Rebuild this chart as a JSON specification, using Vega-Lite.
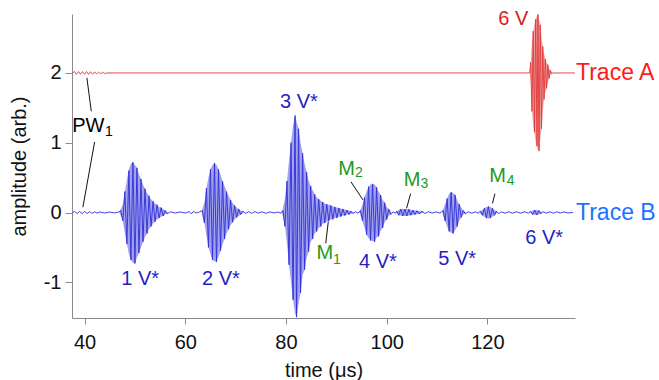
{
  "$schema": "https://vega.github.io/schema/vega-lite/v6.json",
  "width": 503,
  "height": 304,
  "autosize": {"type": "none"},
  "padding": {"left": 72, "top": 14, "right": 84, "bottom": 62},
  "background": "white",
  "config": {
    "view": {"stroke": null},
    "font": "Liberation Sans",
    "axis": {
      "grid": false,
      "domainColor": "#8a8a8a",
      "tickColor": "#8a8a8a",
      "labelColor": "#111111",
      "titleColor": "#111111",
      "labelFontSize": 20,
      "titleFontSize": 20,
      "titleFontWeight": "normal",
      "labelFont": "Liberation Sans",
      "titleFont": "Liberation Sans"
    }
  },
  "datasets": {
    "env": [
      {"k":"B","t":46.9,"hi":0,"lo":0},{"k":"B","t":47.6,"hi":0.12,"lo":-0.12},{"k":"B","t":48.0,"hi":0.3,"lo":-0.3},{"k":"B","t":48.4,"hi":0.47,"lo":-0.45},{"k":"B","t":48.8,"hi":0.62,"lo":-0.6},{"k":"B","t":49.2,"hi":0.7,"lo":-0.68},{"k":"B","t":49.6,"hi":0.72,"lo":-0.72},{"k":"B","t":50.0,"hi":0.68,"lo":-0.73},{"k":"B","t":50.4,"hi":0.64,"lo":-0.64},{"k":"B","t":50.8,"hi":0.55,"lo":-0.58},{"k":"B","t":51.2,"hi":0.48,"lo":-0.5},{"k":"B","t":51.6,"hi":0.4,"lo":-0.42},{"k":"B","t":52.0,"hi":0.34,"lo":-0.35},{"k":"B","t":52.4,"hi":0.28,"lo":-0.3},{"k":"B","t":52.8,"hi":0.24,"lo":-0.24},{"k":"B","t":53.2,"hi":0.19,"lo":-0.2},{"k":"B","t":53.6,"hi":0.16,"lo":-0.16},{"k":"B","t":54.0,"hi":0.13,"lo":-0.13},{"k":"B","t":54.4,"hi":0.11,"lo":-0.1},{"k":"B","t":54.8,"hi":0.08,"lo":-0.08},{"k":"B","t":55.2,"hi":0.07,"lo":-0.06},{"k":"B","t":55.6,"hi":0.05,"lo":-0.05},{"k":"B","t":56.0,"hi":0.03,"lo":-0.03},{"k":"B","t":56.6,"hi":0,"lo":0},
      {"k":"B","t":63.2,"hi":0,"lo":0},{"k":"B","t":63.8,"hi":0.15,"lo":-0.15},{"k":"B","t":64.2,"hi":0.35,"lo":-0.33},{"k":"B","t":64.6,"hi":0.5,"lo":-0.5},{"k":"B","t":65.0,"hi":0.62,"lo":-0.6},{"k":"B","t":65.4,"hi":0.68,"lo":-0.68},{"k":"B","t":65.8,"hi":0.71,"lo":-0.7},{"k":"B","t":66.2,"hi":0.68,"lo":-0.71},{"k":"B","t":66.6,"hi":0.62,"lo":-0.63},{"k":"B","t":67.0,"hi":0.54,"lo":-0.55},{"k":"B","t":67.4,"hi":0.45,"lo":-0.46},{"k":"B","t":67.8,"hi":0.38,"lo":-0.38},{"k":"B","t":68.2,"hi":0.3,"lo":-0.3},{"k":"B","t":68.6,"hi":0.24,"lo":-0.24},{"k":"B","t":69.0,"hi":0.18,"lo":-0.18},{"k":"B","t":69.4,"hi":0.14,"lo":-0.14},{"k":"B","t":69.8,"hi":0.1,"lo":-0.1},{"k":"B","t":70.2,"hi":0.07,"lo":-0.07},{"k":"B","t":70.6,"hi":0.05,"lo":-0.05},{"k":"B","t":71.0,"hi":0.03,"lo":-0.03},{"k":"B","t":71.6,"hi":0,"lo":0},
      {"k":"B","t":79.2,"hi":0,"lo":0},{"k":"B","t":79.8,"hi":0.2,"lo":-0.2},{"k":"B","t":80.2,"hi":0.45,"lo":-0.45},{"k":"B","t":80.6,"hi":0.75,"lo":-0.75},{"k":"B","t":81.0,"hi":1.0,"lo":-1.0},{"k":"B","t":81.4,"hi":1.25,"lo":-1.25},{"k":"B","t":81.8,"hi":1.39,"lo":-1.45},{"k":"B","t":82.1,"hi":1.3,"lo":-1.5},{"k":"B","t":82.5,"hi":1.2,"lo":-1.3},{"k":"B","t":82.9,"hi":1.0,"lo":-1.15},{"k":"B","t":83.3,"hi":0.85,"lo":-0.9},{"k":"B","t":83.7,"hi":0.7,"lo":-0.82},{"k":"B","t":84.1,"hi":0.58,"lo":-0.65},{"k":"B","t":84.5,"hi":0.46,"lo":-0.56},{"k":"B","t":84.9,"hi":0.38,"lo":-0.42},{"k":"B","t":85.3,"hi":0.32,"lo":-0.38},{"k":"B","t":85.7,"hi":0.26,"lo":-0.3},{"k":"B","t":86.1,"hi":0.22,"lo":-0.27},{"k":"B","t":86.5,"hi":0.19,"lo":-0.22},{"k":"B","t":86.9,"hi":0.17,"lo":-0.2},{"k":"B","t":87.3,"hi":0.15,"lo":-0.16},{"k":"B","t":87.7,"hi":0.13,"lo":-0.15},{"k":"B","t":88.1,"hi":0.12,"lo":-0.13},{"k":"B","t":88.5,"hi":0.11,"lo":-0.12},{"k":"B","t":88.9,"hi":0.1,"lo":-0.1},{"k":"B","t":89.7,"hi":0.08,"lo":-0.08},{"k":"B","t":90.5,"hi":0.065,"lo":-0.06},{"k":"B","t":91.3,"hi":0.05,"lo":-0.045},{"k":"B","t":92.1,"hi":0.035,"lo":-0.03},{"k":"B","t":92.9,"hi":0.02,"lo":-0.02},{"k":"B","t":93.5,"hi":0,"lo":0},
      {"k":"B","t":94.6,"hi":0,"lo":0},{"k":"B","t":95.2,"hi":0.12,"lo":-0.12},{"k":"B","t":95.6,"hi":0.22,"lo":-0.22},{"k":"B","t":96.0,"hi":0.3,"lo":-0.32},{"k":"B","t":96.4,"hi":0.37,"lo":-0.37},{"k":"B","t":96.8,"hi":0.4,"lo":-0.4},{"k":"B","t":97.2,"hi":0.41,"lo":-0.41},{"k":"B","t":97.6,"hi":0.4,"lo":-0.42},{"k":"B","t":98.0,"hi":0.36,"lo":-0.36},{"k":"B","t":98.4,"hi":0.3,"lo":-0.34},{"k":"B","t":98.8,"hi":0.25,"lo":-0.26},{"k":"B","t":99.2,"hi":0.18,"lo":-0.22},{"k":"B","t":99.6,"hi":0.14,"lo":-0.14},{"k":"B","t":100.0,"hi":0.08,"lo":-0.1},{"k":"B","t":100.4,"hi":0.05,"lo":-0.05},{"k":"B","t":101.0,"hi":0,"lo":0},
      {"k":"B","t":101.8,"hi":0,"lo":0},{"k":"B","t":102.4,"hi":0.04,"lo":-0.04},{"k":"B","t":103.2,"hi":0.05,"lo":-0.05},{"k":"B","t":104.0,"hi":0.05,"lo":-0.05},{"k":"B","t":104.8,"hi":0.04,"lo":-0.04},{"k":"B","t":105.6,"hi":0.03,"lo":-0.03},{"k":"B","t":106.5,"hi":0.02,"lo":-0.02},{"k":"B","t":107.5,"hi":0,"lo":0},
      {"k":"B","t":111.0,"hi":0,"lo":0},{"k":"B","t":111.6,"hi":0.12,"lo":-0.12},{"k":"B","t":112.0,"hi":0.2,"lo":-0.2},{"k":"B","t":112.4,"hi":0.27,"lo":-0.27},{"k":"B","t":112.8,"hi":0.29,"lo":-0.29},{"k":"B","t":113.2,"hi":0.28,"lo":-0.3},{"k":"B","t":113.6,"hi":0.25,"lo":-0.25},{"k":"B","t":114.0,"hi":0.18,"lo":-0.2},{"k":"B","t":114.4,"hi":0.12,"lo":-0.12},{"k":"B","t":114.8,"hi":0.07,"lo":-0.07},{"k":"B","t":115.2,"hi":0.03,"lo":-0.03},{"k":"B","t":115.8,"hi":0,"lo":0},
      {"k":"B","t":118.4,"hi":0,"lo":0},{"k":"B","t":119.0,"hi":0.04,"lo":-0.04},{"k":"B","t":119.4,"hi":0.06,"lo":-0.06},{"k":"B","t":119.8,"hi":0.08,"lo":-0.08},{"k":"B","t":120.2,"hi":0.085,"lo":-0.085},{"k":"B","t":120.6,"hi":0.08,"lo":-0.08},{"k":"B","t":121.0,"hi":0.06,"lo":-0.06},{"k":"B","t":121.4,"hi":0.04,"lo":-0.04},{"k":"B","t":122.0,"hi":0,"lo":0},
      {"k":"B","t":128.4,"hi":0,"lo":0},{"k":"B","t":129.0,"hi":0.03,"lo":-0.03},{"k":"B","t":129.6,"hi":0.035,"lo":-0.035},{"k":"B","t":130.2,"hi":0.03,"lo":-0.03},{"k":"B","t":131.0,"hi":0,"lo":0},
      {"k":"A","t":128.4,"hi":2.0,"lo":2.0},{"k":"A","t":128.6,"hi":2.15,"lo":1.9},{"k":"A","t":128.85,"hi":2.45,"lo":1.45},{"k":"A","t":129.1,"hi":2.6,"lo":1.25},{"k":"A","t":129.35,"hi":2.7,"lo":1.15},{"k":"A","t":129.6,"hi":2.77,"lo":1.0},{"k":"A","t":129.85,"hi":2.82,"lo":0.95},{"k":"A","t":130.05,"hi":2.84,"lo":0.9},{"k":"A","t":130.25,"hi":2.78,"lo":0.88},{"k":"A","t":130.5,"hi":2.69,"lo":1.05},{"k":"A","t":130.75,"hi":2.5,"lo":1.2},{"k":"A","t":131.0,"hi":2.38,"lo":1.45},{"k":"A","t":131.25,"hi":2.28,"lo":1.62},{"k":"A","t":131.5,"hi":2.2,"lo":1.72},{"k":"A","t":131.75,"hi":2.15,"lo":1.78},{"k":"A","t":132.0,"hi":2.12,"lo":1.85},{"k":"A","t":132.25,"hi":2.07,"lo":1.92},{"k":"A","t":132.5,"hi":2.04,"lo":1.97},{"k":"A","t":132.75,"hi":2.01,"lo":1.99},{"k":"A","t":133.0,"hi":2.0,"lo":2.0}
    ],
    "w": [
      {"k":"B","t":37.6,"v":0},{"k":"B","t":38.0,"v":0.015},{"k":"B","t":38.5,"v":-0.015},{"k":"B","t":39.0,"v":0.015},{"k":"B","t":39.5,"v":-0.015},{"k":"B","t":40.0,"v":0.015},{"k":"B","t":40.5,"v":-0.015},{"k":"B","t":41.0,"v":0.012},{"k":"B","t":41.5,"v":-0.012},{"k":"B","t":42.0,"v":0.01},{"k":"B","t":42.5,"v":-0.01},{"k":"B","t":43.0,"v":0.008},{"k":"B","t":44.0,"v":-0.008},{"k":"B","t":45.0,"v":0.006},{"k":"B","t":46.0,"v":-0.006},{"k":"B","t":46.8,"v":0.008},
      {"k":"B","t":47.2,"v":0.03},{"k":"B","t":47.6,"v":-0.12},{"k":"B","t":48.0,"v":0.30},{"k":"B","t":48.4,"v":-0.45},{"k":"B","t":48.8,"v":0.60},{"k":"B","t":49.2,"v":-0.68},{"k":"B","t":49.6,"v":0.72},{"k":"B","t":50.0,"v":-0.73},{"k":"B","t":50.4,"v":0.64},{"k":"B","t":50.8,"v":-0.58},{"k":"B","t":51.2,"v":0.48},{"k":"B","t":51.6,"v":-0.42},{"k":"B","t":52.0,"v":0.34},{"k":"B","t":52.4,"v":-0.30},{"k":"B","t":52.8,"v":0.24},{"k":"B","t":53.2,"v":-0.20},{"k":"B","t":53.6,"v":0.16},{"k":"B","t":54.0,"v":-0.13},{"k":"B","t":54.4,"v":0.11},{"k":"B","t":54.8,"v":-0.08},{"k":"B","t":55.2,"v":0.07},{"k":"B","t":55.6,"v":-0.05},{"k":"B","t":56.0,"v":0.03},{"k":"B","t":56.4,"v":-0.02},
      {"k":"B","t":57.0,"v":0.01},{"k":"B","t":58.0,"v":-0.008},{"k":"B","t":59.0,"v":0.008},{"k":"B","t":60.0,"v":-0.008},{"k":"B","t":60.8,"v":0.012},{"k":"B","t":61.2,"v":-0.02},{"k":"B","t":61.6,"v":0.015},{"k":"B","t":62.2,"v":-0.008},{"k":"B","t":62.8,"v":0.008},
      {"k":"B","t":63.4,"v":0.03},{"k":"B","t":63.8,"v":-0.15},{"k":"B","t":64.2,"v":0.35},{"k":"B","t":64.6,"v":-0.50},{"k":"B","t":65.0,"v":0.62},{"k":"B","t":65.4,"v":-0.68},{"k":"B","t":65.8,"v":0.71},{"k":"B","t":66.2,"v":-0.71},{"k":"B","t":66.6,"v":0.62},{"k":"B","t":67.0,"v":-0.55},{"k":"B","t":67.4,"v":0.45},{"k":"B","t":67.8,"v":-0.38},{"k":"B","t":68.2,"v":0.30},{"k":"B","t":68.6,"v":-0.24},{"k":"B","t":69.0,"v":0.18},{"k":"B","t":69.4,"v":-0.14},{"k":"B","t":69.8,"v":0.10},{"k":"B","t":70.2,"v":-0.07},{"k":"B","t":70.6,"v":0.05},{"k":"B","t":71.0,"v":-0.03},{"k":"B","t":71.4,"v":0.02},
      {"k":"B","t":72.0,"v":-0.012},{"k":"B","t":72.6,"v":0.012},{"k":"B","t":73.2,"v":-0.012},{"k":"B","t":73.8,"v":0.012},{"k":"B","t":74.5,"v":-0.01},{"k":"B","t":75.2,"v":0.01},{"k":"B","t":76.0,"v":-0.012},{"k":"B","t":76.8,"v":0.008},{"k":"B","t":77.6,"v":-0.006},{"k":"B","t":78.4,"v":0.006},{"k":"B","t":79.0,"v":-0.01},
      {"k":"B","t":79.4,"v":0.03},{"k":"B","t":79.8,"v":-0.2},{"k":"B","t":80.2,"v":0.45},{"k":"B","t":80.6,"v":-0.75},{"k":"B","t":81.0,"v":1.0},{"k":"B","t":81.4,"v":-1.25},{"k":"B","t":81.8,"v":1.39},{"k":"B","t":82.1,"v":-1.5},{"k":"B","t":82.5,"v":1.2},{"k":"B","t":82.9,"v":-1.15},{"k":"B","t":83.3,"v":0.85},{"k":"B","t":83.7,"v":-0.82},{"k":"B","t":84.1,"v":0.58},{"k":"B","t":84.5,"v":-0.56},{"k":"B","t":84.9,"v":0.38},{"k":"B","t":85.3,"v":-0.38},{"k":"B","t":85.7,"v":0.26},{"k":"B","t":86.1,"v":-0.27},{"k":"B","t":86.5,"v":0.19},{"k":"B","t":86.9,"v":-0.2},{"k":"B","t":87.3,"v":0.15},{"k":"B","t":87.7,"v":-0.15},{"k":"B","t":88.1,"v":0.12},{"k":"B","t":88.5,"v":-0.12},{"k":"B","t":88.9,"v":0.10},{"k":"B","t":89.3,"v":-0.10},{"k":"B","t":89.7,"v":0.08},{"k":"B","t":90.1,"v":-0.08},{"k":"B","t":90.5,"v":0.065},{"k":"B","t":90.9,"v":-0.06},{"k":"B","t":91.3,"v":0.05},{"k":"B","t":91.7,"v":-0.045},{"k":"B","t":92.1,"v":0.035},{"k":"B","t":92.5,"v":-0.03},{"k":"B","t":92.9,"v":0.02},{"k":"B","t":93.3,"v":-0.015},
      {"k":"B","t":93.8,"v":0.01},{"k":"B","t":94.3,"v":-0.01},
      {"k":"B","t":94.8,"v":0.03},{"k":"B","t":95.2,"v":-0.12},{"k":"B","t":95.6,"v":0.22},{"k":"B","t":96.0,"v":-0.32},{"k":"B","t":96.4,"v":0.37},{"k":"B","t":96.8,"v":-0.40},{"k":"B","t":97.2,"v":0.41},{"k":"B","t":97.6,"v":-0.42},{"k":"B","t":98.0,"v":0.36},{"k":"B","t":98.4,"v":-0.34},{"k":"B","t":98.8,"v":0.25},{"k":"B","t":99.2,"v":-0.22},{"k":"B","t":99.6,"v":0.14},{"k":"B","t":100.0,"v":-0.10},{"k":"B","t":100.4,"v":0.05},{"k":"B","t":100.8,"v":-0.03},
      {"k":"B","t":101.3,"v":0.01},{"k":"B","t":101.7,"v":-0.01},
      {"k":"B","t":102.0,"v":0.02},{"k":"B","t":102.4,"v":-0.04},{"k":"B","t":102.8,"v":0.05},{"k":"B","t":103.2,"v":-0.05},{"k":"B","t":103.6,"v":0.05},{"k":"B","t":104.0,"v":-0.05},{"k":"B","t":104.4,"v":0.045},{"k":"B","t":104.8,"v":-0.04},{"k":"B","t":105.2,"v":0.035},{"k":"B","t":105.6,"v":-0.03},{"k":"B","t":106.0,"v":0.025},{"k":"B","t":106.5,"v":-0.02},{"k":"B","t":107.0,"v":0.02},{"k":"B","t":107.6,"v":-0.015},{"k":"B","t":108.3,"v":0.012},{"k":"B","t":109.0,"v":-0.01},{"k":"B","t":109.8,"v":0.008},{"k":"B","t":110.5,"v":-0.008},{"k":"B","t":110.9,"v":0.01},
      {"k":"B","t":111.2,"v":0.03},{"k":"B","t":111.6,"v":-0.12},{"k":"B","t":112.0,"v":0.2},{"k":"B","t":112.4,"v":-0.27},{"k":"B","t":112.8,"v":0.29},{"k":"B","t":113.2,"v":-0.30},{"k":"B","t":113.6,"v":0.25},{"k":"B","t":114.0,"v":-0.2},{"k":"B","t":114.4,"v":0.12},{"k":"B","t":114.8,"v":-0.07},{"k":"B","t":115.2,"v":0.03},{"k":"B","t":115.6,"v":-0.02},
      {"k":"B","t":116.2,"v":0.01},{"k":"B","t":116.9,"v":-0.01},{"k":"B","t":117.6,"v":0.01},{"k":"B","t":118.2,"v":-0.01},
      {"k":"B","t":118.6,"v":0.02},{"k":"B","t":119.0,"v":-0.04},{"k":"B","t":119.4,"v":0.06},{"k":"B","t":119.8,"v":-0.08},{"k":"B","t":120.2,"v":0.085},{"k":"B","t":120.6,"v":-0.08},{"k":"B","t":121.0,"v":0.06},{"k":"B","t":121.4,"v":-0.04},{"k":"B","t":121.8,"v":0.02},{"k":"B","t":122.2,"v":-0.015},
      {"k":"B","t":122.8,"v":0.01},{"k":"B","t":123.5,"v":-0.01},{"k":"B","t":124.2,"v":0.01},{"k":"B","t":125.0,"v":-0.01},{"k":"B","t":125.8,"v":0.01},{"k":"B","t":126.6,"v":-0.01},{"k":"B","t":127.4,"v":0.01},{"k":"B","t":128.1,"v":-0.01},
      {"k":"B","t":128.6,"v":0.015},{"k":"B","t":129.0,"v":-0.03},{"k":"B","t":129.4,"v":0.035},{"k":"B","t":129.8,"v":-0.035},{"k":"B","t":130.2,"v":0.03},{"k":"B","t":130.6,"v":-0.02},{"k":"B","t":131.0,"v":0.012},
      {"k":"B","t":131.7,"v":-0.01},{"k":"B","t":132.4,"v":0.01},{"k":"B","t":133.1,"v":-0.01},{"k":"B","t":133.8,"v":0.01},{"k":"B","t":134.5,"v":-0.008},{"k":"B","t":135.2,"v":0.008},{"k":"B","t":136.0,"v":-0.006},{"k":"B","t":137.0,"v":0},
      {"k":"A","t":37.6,"v":2.0},{"k":"A","t":38.0,"v":2.02},{"k":"A","t":38.4,"v":1.98},{"k":"A","t":38.8,"v":2.02},{"k":"A","t":39.2,"v":1.98},{"k":"A","t":39.6,"v":2.02},{"k":"A","t":40.0,"v":1.98},{"k":"A","t":40.4,"v":2.02},{"k":"A","t":40.8,"v":1.98},{"k":"A","t":41.2,"v":2.018},{"k":"A","t":41.6,"v":1.982},{"k":"A","t":42.0,"v":2.015},{"k":"A","t":42.4,"v":1.985},{"k":"A","t":42.8,"v":2.012},{"k":"A","t":43.2,"v":1.988},{"k":"A","t":43.6,"v":2.01},{"k":"A","t":44.0,"v":1.992},{"k":"A","t":44.4,"v":2.0},
      {"k":"A","t":128.4,"v":2.0},{"k":"A","t":128.6,"v":2.15},{"k":"A","t":128.85,"v":1.45},{"k":"A","t":129.1,"v":2.6},{"k":"A","t":129.35,"v":1.15},{"k":"A","t":129.6,"v":2.77},{"k":"A","t":129.85,"v":0.95},{"k":"A","t":130.05,"v":2.84},{"k":"A","t":130.25,"v":0.88},{"k":"A","t":130.5,"v":2.69},{"k":"A","t":130.75,"v":1.2},{"k":"A","t":131.0,"v":2.38},{"k":"A","t":131.25,"v":1.62},{"k":"A","t":131.5,"v":2.2},{"k":"A","t":131.75,"v":1.78},{"k":"A","t":132.0,"v":2.12},{"k":"A","t":132.25,"v":1.92},{"k":"A","t":132.5,"v":2.04},{"k":"A","t":132.75,"v":1.99},{"k":"A","t":133.0,"v":2.0},{"k":"A","t":137.4,"v":2.0}
    ],
    "ldr": [
      {"t":40.46,"v":1.93,"t2":41.33,"v2":1.45},
      {"t":41.99,"v":1.01,"t2":39.66,"v2":0.076},
      {"t":88.4,"v":-0.13,"t2":87.9,"v2":-0.44},
      {"t":92.9,"v":0.44,"t2":95.3,"v2":0.18},
      {"t":104.75,"v":0.27,"t2":103.95,"v2":0.06},
      {"t":121.5,"v":0.27,"t2":121.0,"v2":0.13}
    ],
    "lab": [
      {"t":82.58,"v":1.58,"txt":"3 V*","k":"peakB"},
      {"t":51.03,"v":-0.96,"txt":"1 V*","k":"peakB"},
      {"t":67.08,"v":-0.953,"txt":"2 V*","k":"peakB"},
      {"t":98.25,"v":-0.713,"txt":"4 V*","k":"peakB"},
      {"t":114.0,"v":-0.66,"txt":"5 V*","k":"peakB"},
      {"t":131.29,"v":-0.371,"txt":"6 V*","k":"peakB"},
      {"t":125.15,"v":2.78,"txt":"6 V","k":"peakA"},
      {"t":87.71,"v":-0.586,"txt":"M","k":"mode"},
      {"t":92.03,"v":0.629,"txt":"M","k":"mode"},
      {"t":105.05,"v":0.466,"txt":"M","k":"mode"},
      {"t":122.0,"v":0.519,"txt":"M","k":"mode"},
      {"t":40.74,"v":1.236,"txt":"PW","k":"pw"}
    ],
    "sub": [
      {"t":90.1,"v":-0.681,"txt":"1","k":"mode"},
      {"t":94.47,"v":0.566,"txt":"2","k":"mode"},
      {"t":107.51,"v":0.414,"txt":"3","k":"mode"},
      {"t":124.6,"v":0.45,"txt":"4","k":"mode"},
      {"t":44.83,"v":1.151,"txt":"1","k":"pw"}
    ],
    "tr": [
      {"t":137.6,"v":2.0,"txt":"Trace A","k":"trA"},
      {"t":137.6,"v":0.0,"txt":"Trace B","k":"trB"}
    ]
  },
  "layer": [
    {
      "data": {"name": "env"},
      "mark": {"type": "area", "opacity": 0.45, "orient": "vertical"},
      "encoding": {
        "x": {"field": "t", "type": "quantitative", "scale": {"domain": [37.5, 137.4], "nice": false, "zero": false},
              "axis": {"title": "time (μs)", "values": [40, 60, 80, 100, 120], "tickSize": 6, "labelPadding": 8, "titlePadding": 8}},
        "y": {"field": "hi", "type": "quantitative", "stack": null, "scale": {"domain": [-1.512, 2.845], "nice": false, "zero": false},
              "axis": {"title": "amplitude (arb.)", "values": [-1, 0, 1, 2], "tickSize": 7, "labelPadding": 4, "titlePadding": 14, "labelExpr": "'' + datum.value"}},
        "y2": {"field": "lo"},
        "color": {"field": "k", "type": "nominal", "legend": null,
                  "scale": {"domain": ["A", "B", "peakB", "peakA", "mode", "pw", "trA", "trB"],
                            "range": ["#e03a3a", "#2f2fd6", "#1f1fc4", "#d41c1c", "#1e9a1e", "#000000", "#ff1a1a", "#1a73ff"]}}
      }
    },
    {
      "data": {"name": "w"},
      "mark": {"type": "line", "strokeWidth": 0.9, "interpolate": "linear"},
      "encoding": {
        "x": {"field": "t", "type": "quantitative"},
        "y": {"field": "v", "type": "quantitative"},
        "detail": {"field": "k"},
        "order": {"field": "t", "type": "quantitative"},
        "color": {"field": "k", "type": "nominal", "legend": null,
                  "scale": {"domain": ["A", "B", "peakB", "peakA", "mode", "pw", "trA", "trB"],
                            "range": ["#e03a3a", "#2f2fd6", "#1f1fc4", "#d41c1c", "#1e9a1e", "#000000", "#ff1a1a", "#1a73ff"]}}
      }
    },
    {
      "data": {"name": "ldr"},
      "mark": {"type": "rule", "color": "#111111", "strokeWidth": 1},
      "encoding": {
        "x": {"field": "t", "type": "quantitative"},
        "y": {"field": "v", "type": "quantitative"},
        "x2": {"field": "t2"},
        "y2": {"field": "v2"}
      }
    },
    {
      "data": {"name": "lab"},
      "mark": {"type": "text", "fontSize": 20, "align": "center", "baseline": "middle", "font": "Liberation Sans"},
      "encoding": {
        "x": {"field": "t", "type": "quantitative"},
        "y": {"field": "v", "type": "quantitative"},
        "text": {"field": "txt"},
        "color": {"field": "k", "type": "nominal", "legend": null,
                  "scale": {"domain": ["A", "B", "peakB", "peakA", "mode", "pw", "trA", "trB"],
                            "range": ["#e03a3a", "#2f2fd6", "#1f1fc4", "#d41c1c", "#1e9a1e", "#000000", "#ff1a1a", "#1a73ff"]}}
      }
    },
    {
      "data": {"name": "sub"},
      "mark": {"type": "text", "fontSize": 14, "align": "center", "baseline": "middle", "font": "Liberation Sans"},
      "encoding": {
        "x": {"field": "t", "type": "quantitative"},
        "y": {"field": "v", "type": "quantitative"},
        "text": {"field": "txt"},
        "color": {"field": "k", "type": "nominal", "legend": null,
                  "scale": {"domain": ["A", "B", "peakB", "peakA", "mode", "pw", "trA", "trB"],
                            "range": ["#e03a3a", "#2f2fd6", "#1f1fc4", "#d41c1c", "#1e9a1e", "#000000", "#ff1a1a", "#1a73ff"]}}
      }
    },
    {
      "data": {"name": "tr"},
      "mark": {"type": "text", "fontSize": 23, "align": "left", "baseline": "middle", "font": "Liberation Sans"},
      "encoding": {
        "x": {"field": "t", "type": "quantitative"},
        "y": {"field": "v", "type": "quantitative"},
        "text": {"field": "txt"},
        "color": {"field": "k", "type": "nominal", "legend": null,
                  "scale": {"domain": ["A", "B", "peakB", "peakA", "mode", "pw", "trA", "trB"],
                            "range": ["#e03a3a", "#2f2fd6", "#1f1fc4", "#d41c1c", "#1e9a1e", "#000000", "#ff1a1a", "#1a73ff"]}}
      }
    }
  ]
}
